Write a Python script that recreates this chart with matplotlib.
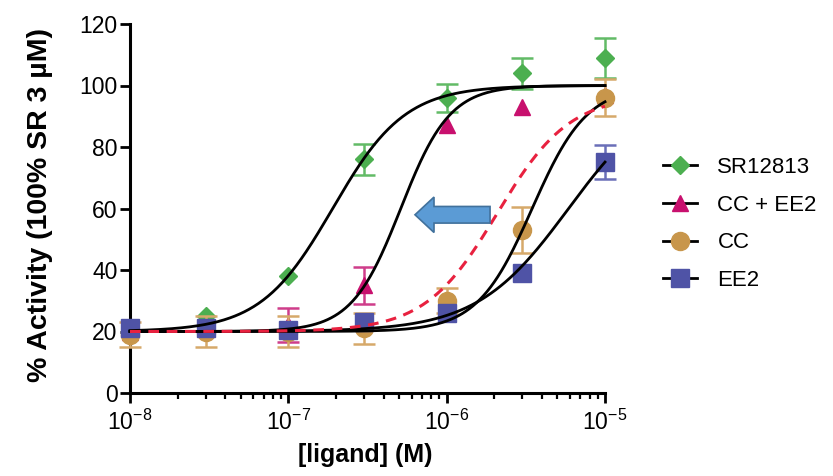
import numpy as np
import matplotlib
matplotlib.use("Agg")
import matplotlib.pyplot as plt
from matplotlib.lines import Line2D
from matplotlib.patches import FancyArrow
from matplotlib.ticker import LogLocator, NullFormatter

plt.rcParams["font.family"] = ["Liberation Sans", "DejaVu Sans"]
plt.rcParams["axes.unicode_minus"] = False

# ---- measured points (% activity) ----
conc = [1e-8, 3e-8, 1e-7, 3e-7, 1e-6, 3e-6, 1e-5]

sr_mean = [21, 25, 38, 76, 96, 104, 109]
sr_err = [0, 0, 0, 5, 4.5, 5, 6.5]

ccee2_mean = [20, 21, 22, 35, 87, 93, 97]
ccee2_err = [0, 0, 5.5, 6, 0, 0, 0]

cc_mean = [19, 20, 20, 21, 30, 53, 96]
cc_err = [4, 5, 5, 5, 4, 7.5, 6]

ee2_mean = [21, 21, 20.5, 23, 26, 39, 75]
ee2_err = [0, 0, 0, 0, 0, 0, 5.5]

# ---- fitted dose-response curves: bottom, top, logEC50, hill slope ----
sr_fit = [20, 100, -6.72, 1.9]
ccee2_fit = [20, 100, -6.29, 2.8]
cc_fit = [20, 100, -5.46, 2.5]
ee2_fit = [20, 100, -5.23, 1.5]
additive_fit = [20, 97, -5.68, 1.9]

names = ["SR12813", "CC + EE2", "CC", "EE2"]
colors = ["#4caf50", "#c8106e", "#c8964b", "#4f53a6"]
err_colors = ["#62bb66", "#cf3d8a", "#d6a96a", "#6a6fb8"]
markers = ["D", "^", "o", "s"]
msizes = [9.5, 12, 13, 13]


def hill(x, p):
    bottom, top, logec, h = p
    return bottom + (top - bottom) / (1 + 10 ** (h * (logec - np.log10(x))))


fig = plt.figure(figsize=(8.33, 4.76), dpi=100)
ax = fig.add_axes([130 / 833, 1 - 393 / 476, 475 / 833, 369 / 476])

means = [sr_mean, ccee2_mean, cc_mean, ee2_mean]
errs = [sr_err, ccee2_err, cc_err, ee2_err]
for i in range(4):
    has_err = [e > 0 for e in errs[i]]
    xe = [c for c, k in zip(conc, has_err) if k]
    ye = [m for m, k in zip(means[i], has_err) if k]
    ee = [e for e, k in zip(errs[i], has_err) if k]
    ax.errorbar(xe, ye, yerr=ee, fmt="none", ecolor=err_colors[i],
                elinewidth=1.8, capsize=8, capthick=1.8, zorder=2 + i, clip_on=False)
    ax.plot(conc, means[i], linestyle="none", marker=markers[i], ms=msizes[i],
            mfc=colors[i], mec=colors[i], zorder=2.5 + i, clip_on=False)

xs = np.logspace(-8, -5, 400)
for p in [sr_fit, ccee2_fit, cc_fit, ee2_fit]:
    ax.plot(xs, hill(xs, p), color="black", lw=2.0, zorder=10, clip_on=False)
ax.plot(xs, hill(xs, additive_fit), color="#e8213f", lw=2.2, ls=(0, (3.5, 2.5)),
        zorder=11, clip_on=False)

# shift arrow
ax.add_patch(FancyArrow(0.758, 0.483, -0.158, 0, width=0.045, head_width=0.096,
                        head_length=0.040, length_includes_head=True,
                        transform=ax.transAxes, facecolor="#5b9bd5",
                        edgecolor="#41719c", lw=1.2, zorder=12))

ax.set_xscale("log")
ax.set_xlim(1e-8, 1e-5)
ax.set_ylim(0, 120)
ax.set_yticks([0, 20, 40, 60, 80, 100, 120])
ax.xaxis.set_major_locator(LogLocator(base=10, numticks=10))
ax.xaxis.set_minor_locator(LogLocator(base=10, subs=np.arange(2, 10), numticks=10))
ax.xaxis.set_minor_formatter(NullFormatter())

for s in ["top", "right"]:
    ax.spines[s].set_visible(False)
for s in ["left", "bottom"]:
    ax.spines[s].set_linewidth(2.2)
ax.tick_params(axis="both", which="major", length=7, width=2, labelsize=16.5,
               color="black")
ax.tick_params(axis="x", which="minor", length=4, width=1.6)
ax.tick_params(axis="y", pad=2)
ax.tick_params(axis="x", pad=5)

ax.set_xlabel("[ligand] (M)", fontsize=18, fontweight="bold", va="center")
ax.xaxis.set_label_coords(0.495, -0.168)
ax.set_ylabel("% Activity (100% SR 3 µM)", fontsize=20.5, fontweight="bold",
              va="center")
ax.yaxis.set_label_coords(-0.19, 0.51)

handles = [Line2D([], [], color="black", lw=2, marker=markers[i], ms=msizes[i],
                  mfc=colors[i], mec=colors[i]) for i in range(4)]
fig.legend(handles, names, loc="center left", bbox_to_anchor=(663 / 833, 1 - 224 / 476),
           frameon=False, fontsize=16, handlelength=1.55, handletextpad=0.9,
           labelspacing=0.75, borderpad=0, borderaxespad=0)

fig.savefig("out.png", dpi=100)
